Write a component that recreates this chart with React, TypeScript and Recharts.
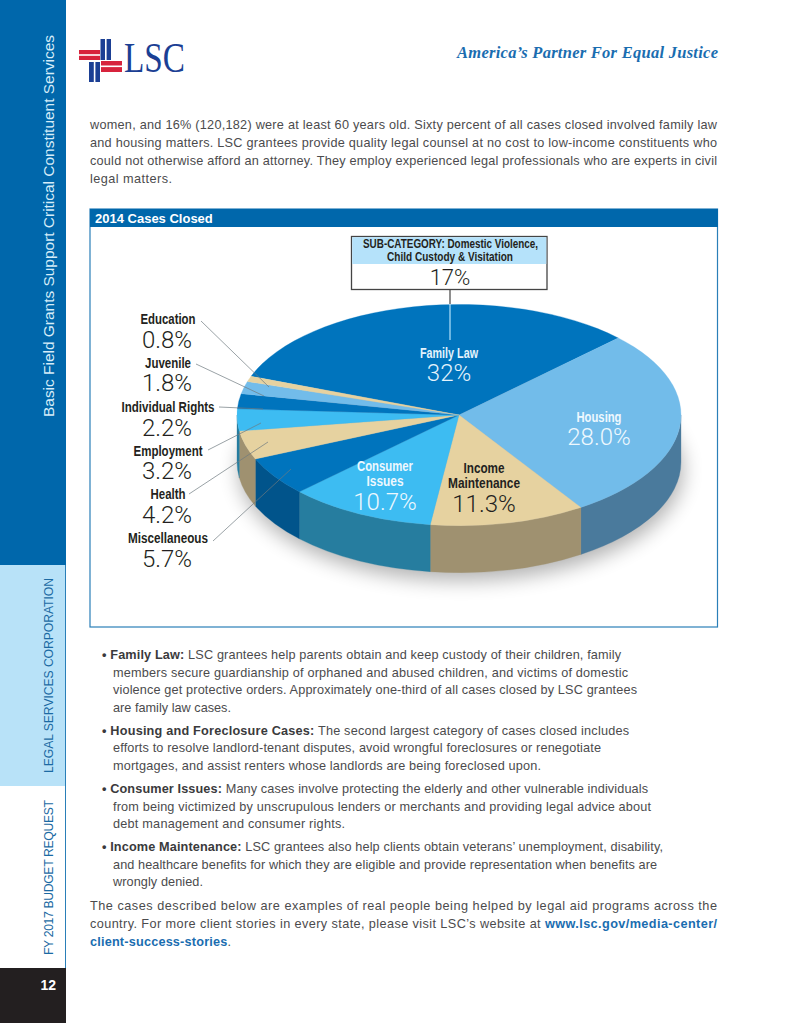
import React from "react";
import { PieChart, Pie } from "recharts";

// ---------- chart data (as printed in the reference) ----------
const categories = ["Family Law", "Housing", "Income Maintenance", "Consumer Issues", "Miscellaneous", "Health", "Employment", "Individual Rights", "Juvenile", "Education"];
const shares = [32, 28.0, 11.3, 10.7, 5.7, 4.2, 3.2, 2.2, 1.8, 0.8];
const shareLabels = ["32%", "28.0%", "11.3%", "10.7%", "5.7%", "4.2%", "3.2%", "2.2%", "1.8%", "0.8%"];
const subCategoryLines = ["SUB-CATEGORY: Domestic Violence,", "Child Custody & Visitation"];
const subCategoryShare = "17%";
const chartTitle = "2014 Cases Closed";

// ---------- page copy ----------
const introLines = [
  "women, and 16% (120,182) were at least 60 years old. Sixty percent of all cases closed involved family law",
  "and housing matters. LSC grantees provide quality legal counsel at no cost to low-income constituents who",
  "could not otherwise afford an attorney. They employ experienced legal professionals who are experts in civil",
  "legal matters.",
];
const bulletBlocks = [
  { head: "Family Law:", first: " LSC grantees help parents obtain and keep custody of their children, family", rest: ["members secure guardianship of orphaned and abused children, and victims of domestic", "violence get protective orders. Approximately one-third of all cases closed by LSC grantees", "are family law cases."] },
  { head: "Housing and Foreclosure Cases:", first: " The second largest category of cases closed includes", rest: ["efforts to resolve landlord-tenant disputes, avoid wrongful foreclosures or renegotiate", "mortgages, and assist renters whose landlords are being foreclosed upon."] },
  { head: "Consumer Issues:", first: " Many cases involve protecting the elderly and other vulnerable individuals", rest: ["from being victimized by unscrupulous lenders or merchants and providing legal advice about", "debt management and consumer rights."] },
  { head: "Income Maintenance:", first: " LSC grantees also help clients obtain veterans’ unemployment, disability,", rest: ["and healthcare benefits for which they are eligible and provide representation when benefits are", "wrongly denied."] },
];

// ---------- styling & layout ----------
const topColors = ["#0074bd", "#72bcea", "#e6d2a0", "#3dbcf2", "#0074bd", "#e6d2a0", "#3dbcf2", "#0074bd", "#72bcea", "#e6d2a0"];
const wallColors = ["#00548a", "#4a7a9c", "#9f9170", "#267d9f", "#01548b", "#9f9170", "#267d9f", "#01548b", "#4a7a9c", "#9f9170"];
const PIE = { cx: 459, cy: 415, r: 222, squash: 0.498, depth: 47, start: 159.5 };
const BODY = "'Liberation Sans', Arial, sans-serif";
const LIGHT = "Roboto, 'Open Sans', sans-serif";

const introEnds = [717, 717, 717, 172];
const bulletFirstEnds = [621, 629, 648, 663];
const bulletRestEnds = [[628, 637, 231], [601, 541], [651, 345], [657, 203]];
const bulletBaselines = [[659, 676.5, 694, 711.5], [735, 752, 770], [793, 810.5, 828], [851, 868.5, 886]];

const outerLabelBaselines: Record<string, [number, number]> = {
  Education: [324, 348], Juvenile: [368, 391], "Individual Rights": [412, 436],
  Employment: [456, 479], Health: [499, 523], Miscellaneous: [543, 567],
};
const outerLabelWidths: Record<string, number> = {
  Education: 55, Juvenile: 46, "Individual Rights": 93, Employment: 69, Health: 35, Miscellaneous: 80,
};
const leaders: Record<string, [number, number, number, number]> = {
  Education: [201, 321, 269, 387], Juvenile: [196, 364, 264, 396], "Individual Rights": [219, 407, 263, 409],
  Employment: [208, 450, 261, 423], Health: [189, 494, 268, 442], Miscellaneous: [213, 541, 291, 469],
};
const innerLabels: Record<string, { x: number; lines: string[]; ys: number[]; widths: number[]; pctY: number; color: string }> = {
  "Family Law": { x: 449, lines: ["Family Law"], ys: [358], widths: [58], pctY: 381, color: "#e4f3fc" },
  Housing: { x: 599, lines: ["Housing"], ys: [422], widths: [45], pctY: 445, color: "#eef8fe" },
  "Income Maintenance": { x: 484, lines: ["Income", "Maintenance"], ys: [473, 488], widths: [41, 72], pctY: 512, color: "#231f20" },
  "Consumer Issues": { x: 385, lines: ["Consumer", "Issues"], ys: [471, 486], widths: [56, 37], pctY: 510, color: "#eef8fe" },
};

const pieData = categories.map((name, i) => ({ name, value: shares[i] }));

const pt = (a: number, r: number, squash: number, cx: number, cy: number) => {
  const t = (a * Math.PI) / 180;
  return [cx + r * Math.cos(t), cy - r * squash * Math.sin(t)];
};

// Sector drawn by Recharts' own angles, flattened into a tilted disc with a side wall.
const TiltedSector = (p: any) => {
  const { cx, cy, outerRadius: r, startAngle: a1, endAngle: a2, name } = p;
  const i = categories.indexOf(name);
  const ry = r * PIE.squash;
  const [x1, y1] = pt(a1, r, PIE.squash, cx, cy);
  const [x2, y2] = pt(a2, r, PIE.squash, cx, cy);
  const hi = Math.min(a1, 0);
  const lo = Math.max(a2, -180);
  let wall = null;
  if (hi > lo) {
    const [wx1, wy1] = pt(hi, r, PIE.squash, cx, cy);
    const [wx2, wy2] = pt(lo, r, PIE.squash, cx, cy);
    wall = (
      <path
        d={`M${wx1},${wy1} A${r},${ry} 0 0 1 ${wx2},${wy2} L${wx2},${wy2 + PIE.depth} A${r},${ry} 0 0 0 ${wx1},${wy1 + PIE.depth} Z`}
        fill={wallColors[i]}
        stroke={wallColors[i]}
        strokeWidth={0.3}
      />
    );
  }
  const large = Math.abs(a1 - a2) > 180 ? 1 : 0;
  return (
    <g>
      {wall}
      <path
        d={`M${cx},${cy} L${x1},${y1} A${r},${ry} 0 ${large} 1 ${x2},${y2} Z`}
        fill={topColors[i]}
        stroke={topColors[i]}
        strokeWidth={0.3}
      />
    </g>
  );
};

const Line = ({ x, y, end, children, weight, color }: any) => (
  <text x={x} y={y} textLength={end - x} lengthAdjust="spacing" fontFamily={BODY} fontSize={12.7} fontWeight={weight} fill={color || "#4b4b4d"}>
    {children}
  </text>
);

// Bold condensed label: the bold sans squeezed to the width it has in the reference.
const Condensed = ({ x, y, width, size = 14, fill, children }: any) => (
  <text x={x - width / 2} y={y} textLength={width} lengthAdjust="spacingAndGlyphs" fontFamily={BODY} fontSize={size} fontWeight={700} fill={fill}>
    {children}
  </text>
);

const Background = () => (
  <svg width={791} height={1023} style={{ position: "absolute", left: 0, top: 0 }}>
    <defs>
      <filter id="soft" x="-20%" y="-30%" width="140%" height="160%">
        <feGaussianBlur stdDeviation="10" />
      </filter>
    </defs>
    {/* side band */}
    <rect x={0} y={0} width={66} height={565} fill="#0067ab" />
    <rect x={0} y={565} width={66} height={221} fill="#b8e2f8" />
    <rect x={65} y={565} width={1} height={403} fill="#2a7fb8" />
    <rect x={0} y={968} width={66} height={55} fill="#231f20" />
    <text transform="translate(54,417) rotate(-90)" fontFamily={BODY} fontSize={15.5} textLength={382} fill="#d6edf9">Basic Field Grants Support Critical Constituent Services</text>
    <text transform="translate(53,773) rotate(-90)" fontFamily={BODY} fontSize={12.2} textLength={195} fill="#1b6aa3">LEGAL SERVICES CORPORATION</text>
    <text transform="translate(53,955) rotate(-90)" fontFamily={BODY} fontSize={12.2} textLength={155} fill="#1b6aa3">FY 2017 BUDGET REQUEST</text>
    <text x={56} y={990} textAnchor="end" fontFamily={BODY} fontSize={14} fontWeight={700} fill="#ffffff">12</text>

    {/* logo */}
    <rect x={79} y={50} width={21} height={10} fill="#d7233c" />
    <rect x={79} y={54.2} width={21} height={1.6} fill="#ffffff" />
    <rect x={101} y={61} width={21} height={11} fill="#d7233c" />
    <rect x={101} y={65.5} width={21} height={1.6} fill="#ffffff" />
    <rect x={100.5} y={39} width={10.5} height={21} fill="#1b3f94" />
    <rect x={105} y={39} width={1.6} height={21} fill="#ffffff" />
    <rect x={89} y={62} width={11} height={20} fill="#1b3f94" />
    <rect x={93.8} y={62} width={1.6} height={20} fill="#ffffff" />
    <text x={124} y={72} fontFamily="'Liberation Serif', serif" fontSize={43} textLength={61} lengthAdjust="spacingAndGlyphs" fill="#1b3f94">LSC</text>
    <text x={457} y={58} fontFamily="'Liberation Serif', serif" fontSize={16.5} fontWeight={700} fontStyle="italic" textLength={261} fill="#1a6db0">America’s Partner For Equal Justice</text>

    {introLines.map((l, i) => (
      <Line key={i} x={90} y={129 + i * 18} end={introEnds[i]}>{l}</Line>
    ))}

    {/* chart panel */}
    <rect x={90} y={209} width={627.5} height={418} fill="#ffffff" stroke="#2a7fb8" strokeWidth={1.2} />
    <rect x={90} y={209} width={628} height={18} fill="#0067ab" />
    <text x={95} y={223} fontFamily={BODY} fontSize={13} fontWeight={700} fill="#ffffff">{chartTitle}</text>

    {/* pie's cast shadow */}
    <ellipse cx={PIE.cx + 2} cy={PIE.cy + PIE.depth + 8} rx={PIE.r} ry={PIE.r * PIE.squash} fill="#000000" opacity={0.3} filter="url(#soft)" />
  </svg>
);

const Overlay = () => (
  <svg width={791} height={1023} style={{ position: "absolute", left: 0, top: 0, pointerEvents: "none" }}>
    {/* sub-category call-out */}
    <rect x={351.5} y={236.5} width={195.5} height={53} fill="#ffffff" stroke="#444444" strokeWidth={1.3} />
    <rect x={352.2} y={237.2} width={194.1} height={26.8} fill="#b5e2fa" />
    <Condensed x={450.5} y={248} width={175} size={12.6} fill="#231f20">{subCategoryLines[0]}</Condensed>
    <Condensed x={450} y={261} width={126} size={12.6} fill="#231f20">{subCategoryLines[1]}</Condensed>
    <text x={450} y={285} textAnchor="middle" fontFamily={LIGHT} fontWeight={300} fontSize={22} fill="#231f20">{subCategoryShare}</text>
    <line x1={450} y1={289.5} x2={450} y2={304} stroke="#444444" strokeWidth={1.2} />
    <line x1={450} y1={304} x2={450} y2={340} stroke="#b5e2fa" strokeWidth={1.2} />

    {/* labels inside the pie */}
    {categories.filter((c) => innerLabels[c]).map((c) => {
      const l = innerLabels[c];
      return (
        <g key={c}>
          {l.lines.map((t, i) => (
            <Condensed key={t} x={l.x} y={l.ys[i]} width={l.widths[i]} fill={l.color}>{t}</Condensed>
          ))}
          <text x={l.x} y={l.pctY} textAnchor="middle" fill={l.color} fontFamily={LIGHT} fontWeight={300} fontSize={24}>{shareLabels[categories.indexOf(c)]}</text>
        </g>
      );
    })}

    {/* leaders and labels left of the pie */}
    {categories.filter((c) => leaders[c]).map((c) => {
      const [x1, y1, x2, y2] = leaders[c];
      const [ny, py] = outerLabelBaselines[c];
      return (
        <g key={c}>
          <line x1={x1} y1={y1} x2={x2} y2={y2} stroke="#6f7a80" strokeWidth={0.7} />
          <Condensed x={168} y={ny} width={outerLabelWidths[c]} fill="#231f20">{c}</Condensed>
          <text x={167} y={py} textAnchor="middle" fontFamily={LIGHT} fontWeight={300} fontSize={24} fill="#231f20">{shareLabels[categories.indexOf(c)]}</text>
        </g>
      );
    })}

    {/* copy below the chart */}
    {bulletBlocks.map((b, i) => (
      <g key={i}>
        <Line x={102} y={bulletBaselines[i][0]} end={bulletFirstEnds[i]}>
          <tspan fontWeight={700} fill="#3a3a3c">{"• " + b.head}</tspan>
          {b.first}
        </Line>
        {b.rest.map((t, j) => (
          <Line key={j} x={113} y={bulletBaselines[i][j + 1]} end={bulletRestEnds[i][j]}>{t}</Line>
        ))}
      </g>
    ))}
    <Line x={90} y={910} end={717}>The cases described below are examples of real people being helped by legal aid programs across the</Line>
    <Line x={90} y={928} end={717}>
      country. For more client stories in every state, please visit LSC’s website at <tspan fontWeight={700} fill="#1a6db0">www.lsc.gov/media-center/</tspan>
    </Line>
    <Line x={90} y={946} end={231}>
      <tspan fontWeight={700} fill="#1a6db0">client-success-stories</tspan>.
    </Line>
  </svg>
);

export default function App() {
  return (
    <div style={{ position: "absolute", left: 0, top: 0, width: 791, height: 1023, overflow: "hidden", background: "#ffffff" }}>
      <Background />
      <div style={{ position: "absolute", left: 0, top: 0 }}>
        <PieChart width={791} height={1023} margin={{ top: 0, right: 0, bottom: 0, left: 0 }}>
          <Pie
            data={pieData}
            dataKey="value"
            nameKey="name"
            cx={PIE.cx}
            cy={PIE.cy}
            outerRadius={PIE.r}
            innerRadius={0}
            startAngle={PIE.start}
            endAngle={PIE.start - 360}
            shape={TiltedSector}
            label={false}
            labelLine={false}
            isAnimationActive={false}
          />
        </PieChart>
      </div>
      <Overlay />
    </div>
  );
}
